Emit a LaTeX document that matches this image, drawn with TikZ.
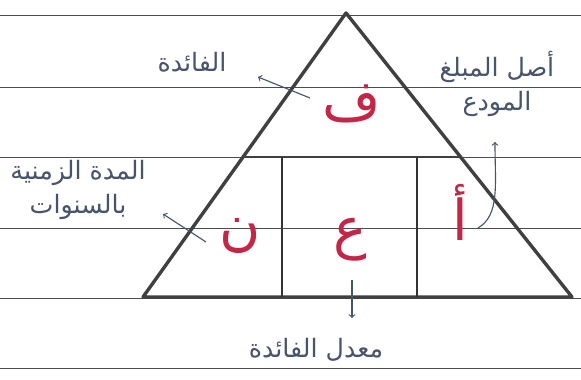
\documentclass[tikz,border=0pt]{standalone}
\usepackage{fontspec}
\newfontfamily\arabicfont[Script=Arabic]{DejaVu Sans}
\TeXXeTstate=1
\definecolor{ink}{RGB}{72,84,108}
\definecolor{redink}{RGB}{196,38,72}
\tikzset{
  rule/.style={black!70, line width=0.7pt},
  side/.style={black!75, line width=2.4pt, line join=round},
  lbl/.style={text=ink, font=\arabicfont\fontsize{18}{24}\selectfont, align=center},
  letter/.style={text=redink, font=\arabicfont\fontsize{40}{46}\selectfont},
  pointer/.style={->, ink, line width=0.8pt}
}
\begin{document}
\begin{tikzpicture}[x=0.025cm,y=-0.025cm]
\useasboundingbox (0,0) rectangle (581,380);
\fill[white] (0,0) rectangle (581,380);
% ruled paper
\foreach \y in {15,87,157,228,298,368}
    \draw[rule] (0,\y) -- (581,\y);
% triangle
\coordinate (apex) at (346,13);
\coordinate (bl) at (143,297);
\coordinate (br) at (572,297);
\draw[side] (bl) -- (apex) -- (br) -- cycle;
\draw[black!75, line width=1.1pt] (243,157) -- (461,157);
\draw[black!80, line width=1.8pt] (282,157) -- (282,297);
\draw[black!80, line width=1.8pt] (417,157) -- (417,297);
% letters
\node[letter] (f) at (352,104) {\beginR ف\endR};
\node[letter] (n) at (240,236) {\beginR ن\endR};
\node[letter] (ain) at (350,240) {\beginR ع\endR};
\node[letter] (alif) at (460,212) {\beginR أ\endR};
% labels
\node[lbl] (lblF) at (192,62) {\beginR الفائدة\endR};
\node[lbl] (lblA) at (497,84) {\beginR أصل المبلغ\endR\\ \beginR المودع\endR};
\node[lbl] (lblN) at (78,190) {\beginR المدة الزمنية\endR\\ \beginR بالسنوات\endR};
\node[lbl] (lblR) at (316,350) {\beginR معدل الفائدة\endR};
% pointers
\coordinate (fTail) at (310,98);
\coordinate (fTip) at (258,77);
\coordinate (nTail) at (206,242);
\coordinate (nTip) at (163,214);
\coordinate (aTail) at (478,228);
\coordinate (aTip) at (495,142);
\coordinate (rTail) at (352,280);
\coordinate (rTip) at (352,318);
\draw[pointer] (fTail) -- (fTip);
\draw[pointer] (nTail) -- (nTip);
\draw[pointer] (aTail) .. controls (500,215) and (495,185) .. (aTip);
\draw[pointer] (rTail) -- (rTip);
\end{tikzpicture}
\end{document}
